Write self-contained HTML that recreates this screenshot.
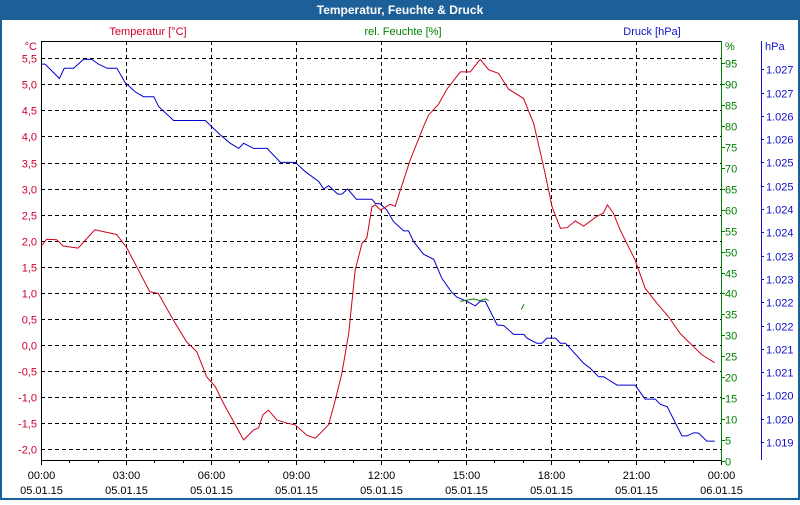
<!DOCTYPE html>
<html><head><meta charset="utf-8"><style>
body{margin:0;width:800px;height:500px;overflow:hidden;background:#fff;font-family:"Liberation Sans",sans-serif}
</style></head><body>
<svg id="c" width="800" height="500" xmlns="http://www.w3.org/2000/svg" font-family="Liberation Sans, sans-serif" font-size="11">
<rect x="0" y="0" width="800" height="500" fill="#fff"/>
<rect x="0" y="0" width="800" height="20" fill="#1d5f98"/>
<rect x="0" y="20" width="2" height="480" fill="#1d5f98"/>
<rect x="798" y="20" width="2" height="480" fill="#1d5f98"/>
<rect x="0" y="498" width="800" height="2" fill="#1d5f98"/>
<text x="400" y="14" text-anchor="middle" fill="#fff" font-weight="bold" font-size="12">Temperatur, Feuchte &amp; Druck</text>
<text x="148" y="35" text-anchor="middle" fill="#d0002a">Temperatur [°C]</text>
<text x="403" y="35" text-anchor="middle" fill="#008000">rel. Feuchte [%]</text>
<text x="652" y="35" text-anchor="middle" fill="#1010c8">Druck [hPa]</text>
<text x="37" y="50" text-anchor="end" fill="#d0002a">°C</text>
<text x="725" y="50" fill="#008000">%</text>
<text x="765" y="50" fill="#1010c8">hPa</text>
<g id="grid"></g><g id="axes"></g><g id="series"></g>
</svg>
<script>
const hoursT=[0,0.2,0.55,0.78,1.31,1.9,2.67,3.02,3.84,4.14,4.67,5.14,5.5,5.85,6.15,6.44,7.15,7.5,7.68,7.83,8.03,8.33,8.68,8.97,9.38,9.68,10.15,10.39,10.62,10.86,11.09,11.33,11.5,11.68,11.8,11.98,12.32,12.5,12.68,13.03,13.5,13.68,14.03,14.33,14.8,15.15,15.5,15.8,16.15,16.5,17.03,17.39,17.74,18.04,18.33,18.57,18.86,19.15,19.62,19.85,19.99,20.2,20.44,20.97,21.32,21.74,22.15,22.56,22.97,23.33,23.78];
const tempVals=[1.89,2.03,2.02,1.90,1.86,2.21,2.12,1.87,1.02,0.99,0.48,0.06,-0.13,-0.61,-0.80,-1.12,-1.82,-1.63,-1.59,-1.34,-1.25,-1.44,-1.50,-1.53,-1.73,-1.79,-1.53,-1.05,-0.54,0.22,1.44,1.95,2.05,2.65,2.69,2.59,2.70,2.66,2.97,3.55,4.19,4.41,4.62,4.91,5.24,5.24,5.48,5.28,5.21,4.91,4.73,4.25,3.42,2.65,2.24,2.25,2.38,2.28,2.47,2.53,2.69,2.53,2.21,1.63,1.09,0.80,0.54,0.22,0.00,-0.19,-0.34];
const hoursP=[0,0.14,0.65,0.82,1.15,1.5,1.79,2.03,2.33,2.68,2.97,3.33,3.62,3.98,4.15,4.68,5.8,6.33,6.68,6.98,7.15,7.5,7.98,8.45,8.98,9.33,9.8,9.98,10.15,10.47,10.62,10.82,11.13,11.68,11.8,11.97,12.2,12.44,12.8,12.97,13.15,13.5,13.86,14.15,14.5,14.68,15.03,15.33,15.5,15.68,16.1,16.33,16.68,17.04,17.15,17.5,17.68,17.86,18.16,18.33,18.51,19.15,19.39,19.68,19.86,20.04,20.33,20.97,21.32,21.68,21.86,22.1,22.62,22.8,23.04,23.21,23.5,23.78];
const pressVals=[1.02731,1.02731,1.02700,1.02722,1.02722,1.02741,1.02741,1.02731,1.02722,1.02722,1.02691,1.02671,1.02661,1.02661,1.02640,1.02610,1.02610,1.02579,1.02561,1.02550,1.02561,1.02550,1.02550,1.02520,1.02520,1.02500,1.02479,1.02463,1.02470,1.02452,1.02452,1.02463,1.02441,1.02441,1.02432,1.02431,1.02418,1.02393,1.02373,1.02373,1.02350,1.02323,1.02312,1.02271,1.02241,1.02231,1.02222,1.02212,1.02222,1.02222,1.02171,1.02170,1.02151,1.02151,1.02143,1.02132,1.02132,1.02143,1.02143,1.02132,1.02132,1.02089,1.02078,1.02060,1.02060,1.02053,1.02042,1.02042,1.02012,1.02012,1.02001,1.01996,1.01933,1.01933,1.01940,1.01939,1.01922,1.01922];
const hoursH=[14.8,15.27,15.5,15.68,15.8,null,16.95,17.05];
const humVals=[38.1,38.7,38.3,38.7,38.3,null,36.2,37.4];
const tempTicks=[5.5,5.0,4.5,4.0,3.5,3.0,2.5,2.0,1.5,1.0,0.5,0.0,-0.5,-1.0,-1.5,-2.0];
const humTicks=[95,90,85,80,75,70,65,60,55,50,45,40,35,30,25,20,15,10,5,0];
const pressTicks=[1.0272,1.0267,1.0262,1.0257,1.0252,1.0247,1.0242,1.0237,1.0232,1.0227,1.0222,1.0217,1.0212,1.0207,1.0202,1.0197,1.0192];
const timeLabels=["00:00","03:00","06:00","09:00","12:00","15:00","18:00","21:00","00:00"];
const dateLabels=["05.01.15","05.01.15","05.01.15","05.01.15","05.01.15","05.01.15","05.01.15","05.01.15","06.01.15"];

const X0=41,X1=721,Y0=41,Y1=460;
const xS=h=>X0+h*(X1-X0)/24;
const yT=v=>58.3+(5.5-v)*52.13;
const yH=v=>63+(95-v)*4.19;
const yP=v=>442-(v-1.0192)/0.0005*23.3;
const NS="http://www.w3.org/2000/svg";
function mk(tag,parent,attrs){const e=document.createElementNS(NS,tag);for(const k in attrs)e.setAttribute(k,attrs[k]);parent.appendChild(e);return e;}
const grid=document.getElementById('grid'),axes=document.getElementById('axes'),ser=document.getElementById('series');
tempTicks.forEach(v=>{
  const y=Math.round(yT(v))+0.5;
  const l=mk('line',grid,{x1:X0,x2:X1,y1:y,y2:y,stroke:'#000','stroke-dasharray':'4,3'});
  
  
  const t=mk('text',axes,{x:37,y:y+4,'text-anchor':'end',fill:'#d0002a'});t.textContent=v.toFixed(1).replace('.',',');
  
  
});
timeLabels.forEach((s,i)=>{
  const x=Math.round(xS(i*3))+0.5;
  if(i>0&&i<8){const l=mk('line',grid,{x1:x,x2:x,y1:Y0,y2:Y1,stroke:'#000','stroke-dasharray':'4,3'});
  
  }
  const t=mk('text',axes,{x:x,y:479,'text-anchor':'middle',fill:'#000'});t.textContent=s;
  
  
  const d=mk('text',axes,{x:x,y:494,'text-anchor':'middle',fill:'#000'});d.textContent=dateLabels[i];
  
  
});
for(let h=0;h<=24;h++){const x=Math.round(xS(h))+0.5;const tk=mk('line',axes,{x1:x,x2:x,y1:Y1,y2:Y1+(h%3?3:5),stroke:'#000'});
  
  }
const frame=mk('path',axes,{d:`M${X0+0.5},${Y0+0.5}H${X1}M${X0+0.5},${Y0}V${Y1+0.5}H${X1}`,stroke:'#000',fill:'none'});


const ga=mk('line',axes,{x1:X1+0.5,x2:X1+0.5,y1:Y0,y2:Y1+1,stroke:'#008000'});


humTicks.forEach(v=>{const y=Math.round(yH(v))+0.5;
  const tk=mk('line',axes,{x1:X1,x2:X1+4,y1:y,y2:y,stroke:'#008000'});
  
  
  const t=mk('text',axes,{x:725,y:y+4,fill:'#008000'});t.textContent=String(v);
  
  });
const pa=mk('line',axes,{x1:761.5,x2:761.5,y1:Y0,y2:Y1,stroke:'#1010c8'});


pressTicks.forEach(v=>{const y=Math.round(yP(v))+0.5;
  const tk=mk('line',axes,{x1:761,x2:764,y1:y,y2:y,stroke:'#1010c8'});
  
  
  const t=mk('text',axes,{x:766,y:y+4,fill:'#1010c8'});t.textContent=v.toFixed(3);
  
  });
function pathD(hs,vs,ys){let d='',pen=false;hs.forEach((h,i)=>{if(h===null||vs[i]===null){pen=false;return;}d+=(pen?'L':'M')+xS(h).toFixed(1)+','+ys(vs[i]).toFixed(1);pen=true;});return d;}
const pl=mk('path',ser,{d:pathD(hoursP,pressVals,yP),stroke:'#0000d0',fill:'none','stroke-width':1});


const hl=mk('path',ser,{d:pathD(hoursH,humVals,yH),stroke:'#008000',fill:'none','stroke-width':1});


const tl=mk('path',ser,{d:pathD(hoursT,tempVals,yT),stroke:'#d0001a',fill:'none','stroke-width':1});


</script>
</body></html>
